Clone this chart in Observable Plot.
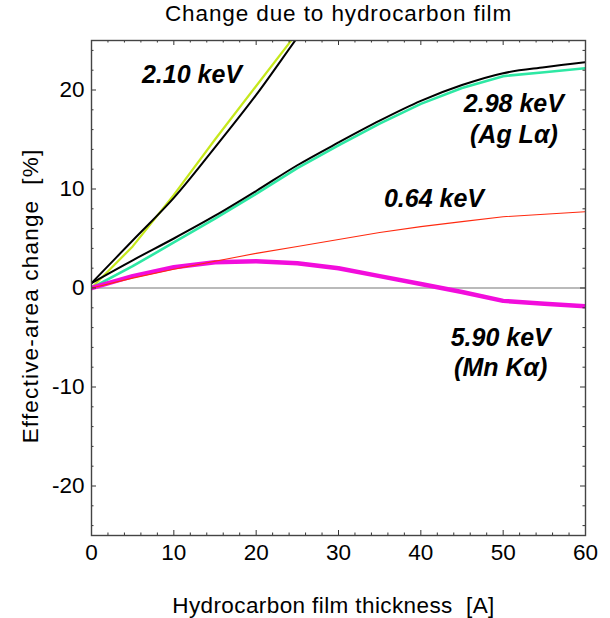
<!DOCTYPE html>
<html><head><meta charset="utf-8">
<script src="https://cdn.jsdelivr.net/npm/d3@7"></script>
<script src="https://cdn.jsdelivr.net/npm/@observablehq/plot@0.6"></script>
<style>
body{margin:0;background:#fff;}
svg{font-family:"Liberation Sans",Arial,sans-serif;}
</style>
</head><body><div id="chart"></div>
<script>
// ---- data ----
const thicknessShort = [0, 5, 10, 15, 20, 25, 30];
const thickness = [0, 5, 10, 15, 20, 25, 30, 35, 40, 45, 50, 55, 60];
const kev210Yellow = [0, 4.2, 9.4, 15.0, 20.4, 25.8, 31.2];
const kev210Black  = [0.5, 4.8, 9.1, 14.2, 19.5, 25.3, 31.0];
const kev298Black  = [0.5, 2.8, 5.0, 7.3, 9.8, 12.4, 14.7, 16.9, 18.9, 20.5, 21.7, 22.3, 22.8];
const kev298Cyan   = [0, 2.2, 4.6, 7.0, 9.5, 12.1, 14.4, 16.6, 18.6, 20.2, 21.4, 21.8, 22.2];
const kev064Red    = [0, 1.0, 1.9, 2.7, 3.5, 4.2, 4.9, 5.6, 6.2, 6.7, 7.2, 7.45, 7.7];
const kev590Mag    = [0, 1.2, 2.1, 2.6, 2.7, 2.5, 2.0, 1.2, 0.4, -0.4, -1.3, -1.6, -1.85];

const xTicks = [0, 10, 20, 30, 40, 50, 60];
const yTicks = [-20, -10, 0, 10, 20];
const xMinor = d3.range(0, 61, 2).filter(d => d % 10 !== 0);
const yMinor = d3.range(-24, 25, 2).filter(d => d % 10 !== 0);

const annotations = [
  {text: "2.10 keV", x: 12.2, y: 21.5},
  {text: "2.98 keV", x: 51.3, y: 18.6},
  {text: "(Ag L\u03b1)", x: 51.3, y: 15.5},
  {text: "0.64 keV", x: 41.6, y: 9.0},
  {text: "5.90 keV", x: 49.7, y: -5.0},
  {text: "(Mn K\u03b1)", x: 49.7, y: -8.1}
];

const titleText = "Change due to hydrocarbon film";
const xLabel = "Hydrocarbon film thickness\u00a0\u00a0[A]";
const yLabel = "Effective-area change\u00a0\u00a0[%]";

// ---- build ----
const W = 610, H = 618;
const mL = 91, mR = 25, mT = 40, mB = 83;
const fW = W - mL - mR, fH = H - mT - mB;
const series = (xs, ys) => xs.map((x, i) => ({x, y: ys[i]}));
const fs = 22.5;
const tickColor = "#333";

const chart = Plot.plot({
  width: W, height: H,
  marginLeft: mL, marginRight: mR, marginTop: mT, marginBottom: mB,
  x: {domain: [0, 60]},
  y: {domain: [-25, 25]},
  style: {fontFamily: "'Liberation Sans', Arial, sans-serif", background: "#fff"},
  marks: [
    Plot.ruleY([0], {stroke: "#777", strokeWidth: 1.2}),
    Plot.line(series(thicknessShort, kev210Yellow), {x: "x", y: "y", stroke: "#c6e81c", strokeWidth: 2.2, clip: true}),
    Plot.line(series(thicknessShort, kev210Black), {x: "x", y: "y", stroke: "#000", strokeWidth: 2, curve: "catmull-rom", clip: true}),
    Plot.line(series(thickness, kev298Cyan), {x: "x", y: "y", stroke: "#2ee8a4", strokeWidth: 2.6, clip: true}),
    Plot.line(series(thickness, kev298Black), {x: "x", y: "y", stroke: "#000", strokeWidth: 2, curve: "catmull-rom", clip: true}),
    Plot.line(series(thickness, kev590Mag), {x: "x", y: "y", stroke: "#f20ddc", strokeWidth: 4.5, clip: true}),
    Plot.line(series(thickness, kev064Red), {x: "x", y: "y", stroke: "#ff2a10", strokeWidth: 1.1, clip: true}),
    // inward ticks on all sides
    Plot.tickX(xTicks, {x: d => d, insetTop: fH - 5, stroke: tickColor}),
    Plot.tickX(xTicks, {x: d => d, insetBottom: fH - 5, stroke: tickColor}),
    Plot.tickX(xMinor, {x: d => d, insetTop: fH - 2.5, stroke: tickColor}),
    Plot.tickX(xMinor, {x: d => d, insetBottom: fH - 2.5, stroke: tickColor}),
    Plot.tickY(yTicks, {y: d => d, insetRight: fW - 5, stroke: tickColor}),
    Plot.tickY(yTicks, {y: d => d, insetLeft: fW - 5, stroke: tickColor}),
    Plot.tickY(yMinor, {y: d => d, insetRight: fW - 2.5, stroke: tickColor}),
    Plot.tickY(yMinor, {y: d => d, insetLeft: fW - 2.5, stroke: tickColor}),
    Plot.frame({stroke: "#444", strokeWidth: 1.4}),
    Plot.axisX(xTicks, {tickSize: 0, tickPadding: 9, fontSize: fs, label: null, tickFormat: d => String(d), fill: "#000"}),
    Plot.axisY(yTicks, {tickSize: 0, tickPadding: 7, fontSize: fs, label: null, tickFormat: d => String(d), fill: "#000"}),
    Plot.text(annotations, {x: "x", y: "y", text: "text", fontSize: 25, fontWeight: "bold", fontStyle: "italic", fill: "#000"}),
    Plot.text([titleText], {frameAnchor: "top", lineAnchor: "middle", textAnchor: "middle", dy: -27, fontSize: fs, fill: "#000"}),
    Plot.text([xLabel], {frameAnchor: "bottom", lineAnchor: "middle", textAnchor: "middle", dy: 70, dx: -5, fontSize: fs, fill: "#000"}),
    Plot.text([yLabel], {frameAnchor: "left", lineAnchor: "middle", textAnchor: "middle", rotate: -90, dx: -61, dy: 8, fontSize: fs, fill: "#000"})
  ]
});
const spacing = new Map([[titleText, "0.9px"], [xLabel, "0.4px"], [yLabel, "1.2px"]]);
d3.select(chart).selectAll("text")
  .filter(function() { return spacing.has(this.textContent); })
  .attr("letter-spacing", function() { return spacing.get(this.textContent); });
document.getElementById("chart").appendChild(chart);
</script>
</body></html>
